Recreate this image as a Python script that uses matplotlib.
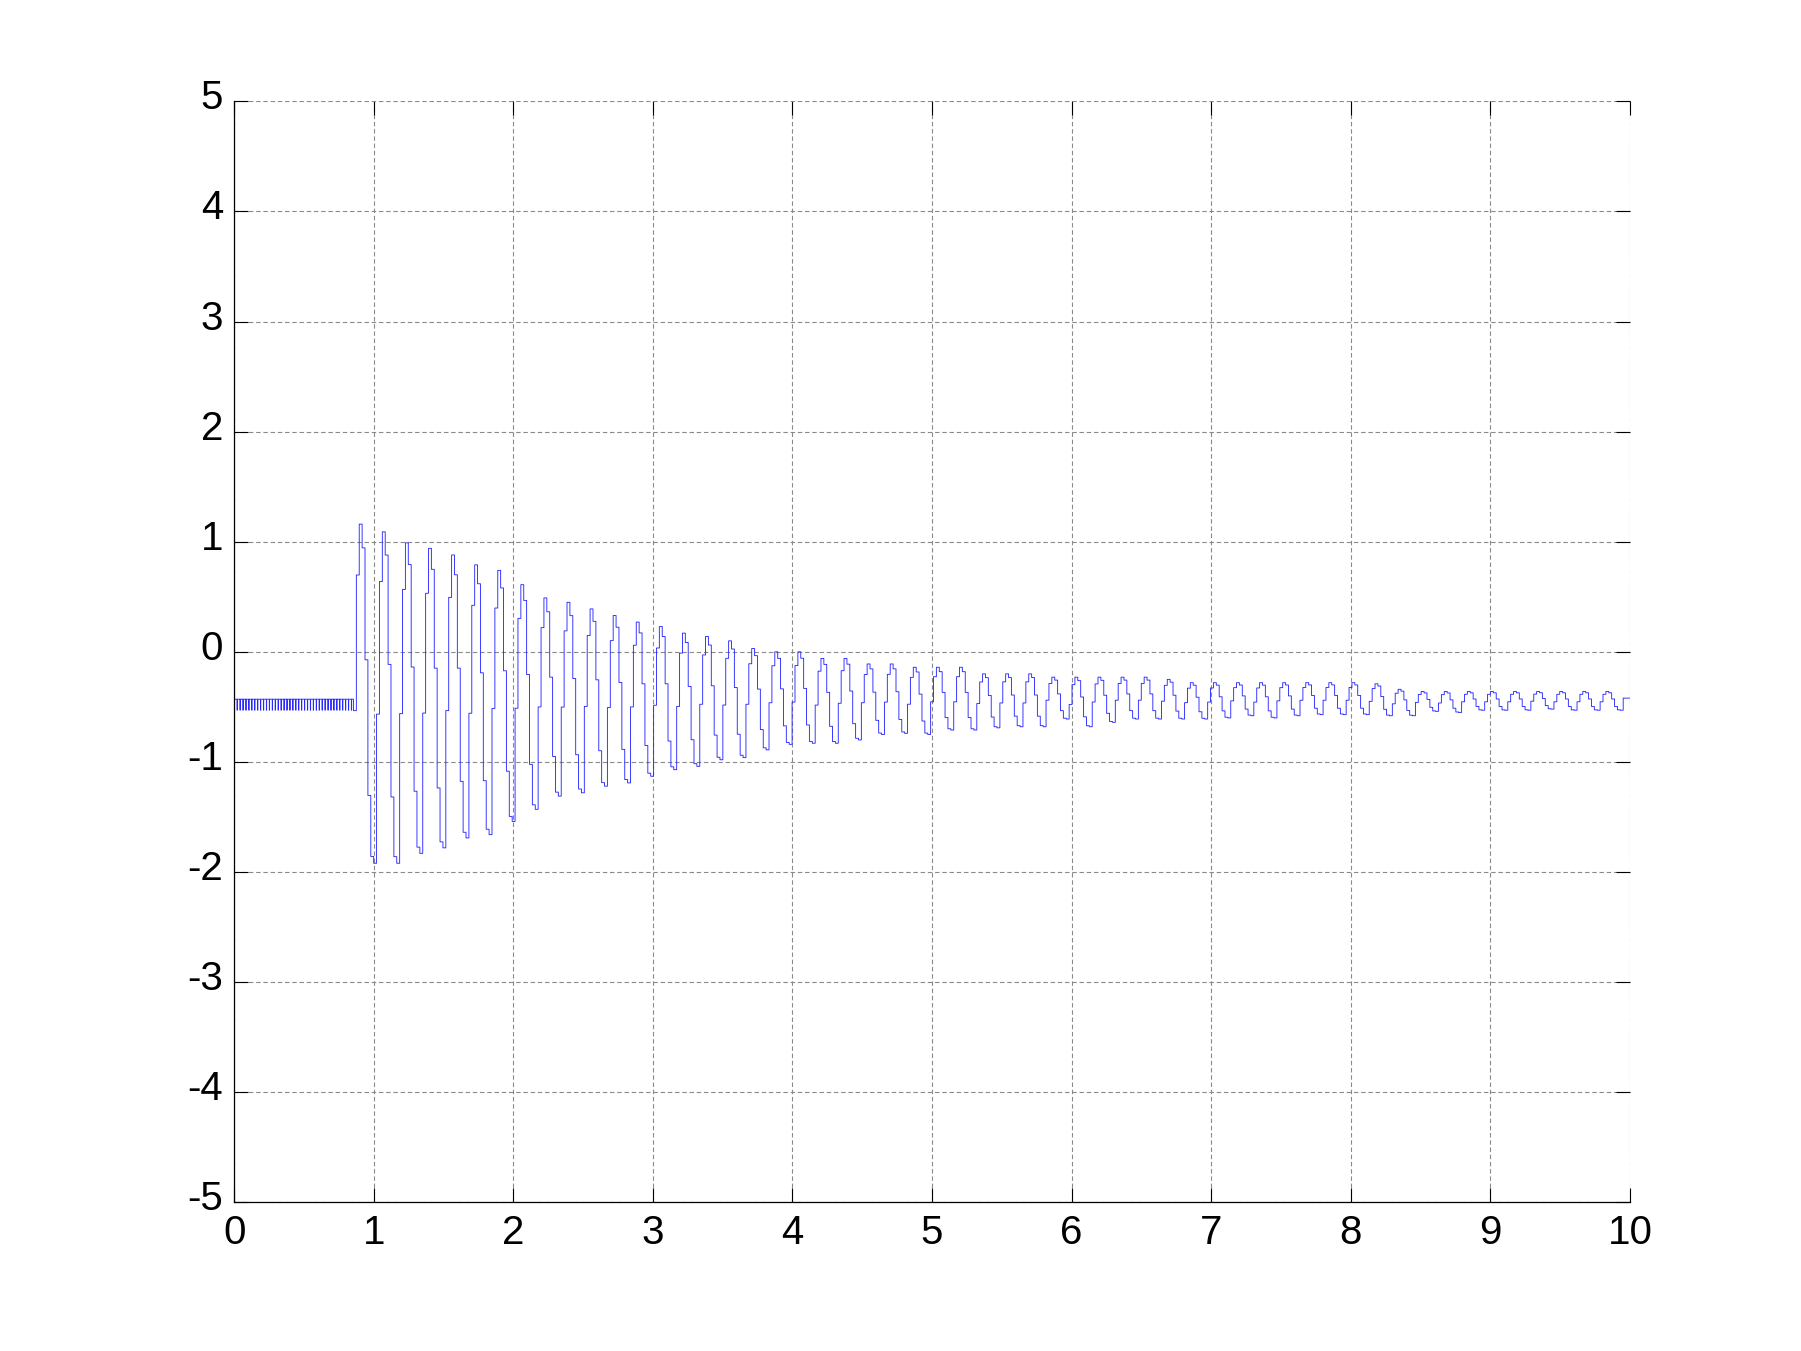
import numpy as np
import matplotlib
matplotlib.use("Agg")
import matplotlib.pyplot as plt
import matplotlib.transforms as mtransforms

# --- values ---
onset = 0.855        # s, oscillation starts here
period = 0.1654      # s, one cycle (55 cycles up to t = 10)
pre_top = -0.43      # level before the onset ...
pre_dip = -0.53      # ... with short dips down to here
pre_tick = 0.021     # spacing of those dips
end_level = -0.42    # value at t = 10

# per-cycle maximum and minimum
peaks = [1.16, 1.09, 0.99, 0.94, 0.88, 0.79, 0.74, 0.61, 0.49,
         0.45, 0.39, 0.33, 0.27, 0.23, 0.17, 0.14, 0.10, 0.03,
         0.00, 0.00, -0.06, -0.06, -0.11, -0.11, -0.14, -0.14, -0.14,
         -0.20, -0.20, -0.20, -0.23, -0.23, -0.23, -0.23, -0.23, -0.25,
         -0.28, -0.28, -0.28, -0.28, -0.28, -0.28, -0.28, -0.28, -0.29, -0.34,
         -0.36, -0.36, -0.36, -0.36, -0.36, -0.36, -0.36, -0.36, -0.36]
troughs = [-1.92, -1.92, -1.83, -1.78, -1.69, -1.66, -1.54, -1.43,
           -1.31, -1.28, -1.22, -1.19, -1.13, -1.07, -1.04, -0.98, -0.96,
           -0.89, -0.84, -0.83, -0.83, -0.80, -0.75, -0.74, -0.75, -0.71, -0.71,
           -0.69, -0.68, -0.68, -0.61, -0.68, -0.64, -0.61, -0.61, -0.61,
           -0.61, -0.60, -0.58, -0.60, -0.58, -0.57, -0.57, -0.57, -0.58,
           -0.58, -0.54, -0.55, -0.53, -0.53, -0.53, -0.52, -0.53, -0.53, -0.53]
# held sample levels within one cycle (0 = trough, 1 = peak)
cycle_shape = [0.45, 0.85, 1.0, 0.93, 0.6, 0.2, 0.02, 0.0]

x_ticks = list(range(0, 11))
y_ticks = list(range(-5, 6))

# --- assemble the zero-order-hold signal ---
t, y = [], []
for tk in np.arange(0.0, onset - 0.005, pre_tick):
    t += [tk, tk + 0.002]
    y += [pre_dip, pre_top]
dt = period / len(cycle_shape)
for k, (p, tr) in enumerate(zip(peaks, troughs)):
    for j, s in enumerate(cycle_shape):
        t.append(onset + k * period + j * dt)
        y.append(tr + s * (p - tr))
t += [onset + len(peaks) * period, 10.0]
y += [end_level, end_level]

plt.rcParams["font.family"] = ["Liberation Sans", "DejaVu Sans"]
plt.rcParams["axes.unicode_minus"] = False

fig = plt.figure(figsize=(18.01, 13.51), dpi=100)
ax = fig.add_axes([0.13, 0.11, 0.775, 0.815])

ax.plot(t, y, color="#2a2aff", linewidth=0.65, drawstyle="steps-post")

ax.set_xlim(0, 10)
ax.set_ylim(-5, 5)
ax.set_xticks(x_ticks)
ax.set_yticks(y_ticks)
ax.set_xticklabels([str(v) for v in x_ticks])
ax.set_yticklabels([str(v) for v in y_ticks])
ax.tick_params(direction="in", length=10, width=0.8, labelsize=29,
               top=True, right=True, pad=8)
ax.grid(True, color="#8a8a8a", linewidth=0.8, linestyle=(0, (4, 2.5)))
ax.spines["top"].set_visible(False)
ax.spines["right"].set_visible(False)
for s in ("left", "bottom"):
    ax.spines[s].set_linewidth(0.9)

# y labels sit a little above their ticks, as in the original
shift = mtransforms.ScaledTranslation(0, 7 / 100, fig.dpi_scale_trans)
for lab in ax.get_yticklabels():
    lab.set_transform(lab.get_transform() + shift)

fig.savefig("out.png", dpi=100)
print("Saved out.png")
